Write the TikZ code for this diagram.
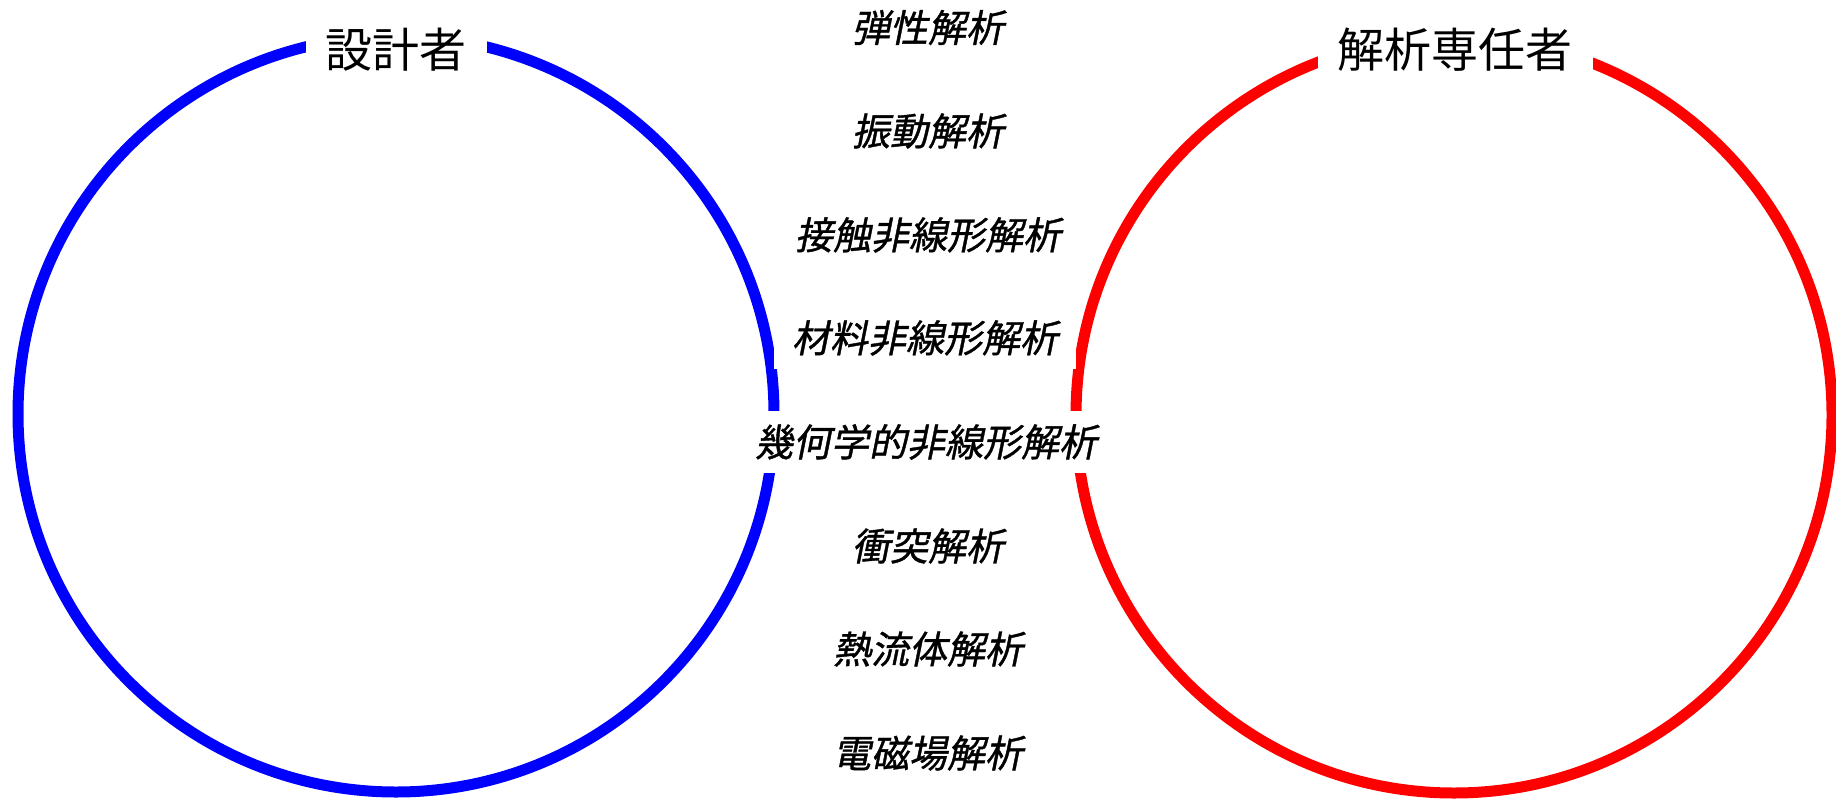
\documentclass[tikz,border=0pt]{standalone}
\usepackage{fontspec}
\newfontfamily\jpfont{Noto Sans CJK JP}
\newfontfamily\jpslfont[FakeSlant=0.2,FakeBold=1]{Noto Sans CJK JP}
\begin{document}
\begin{tikzpicture}[x=1pt,y=-1pt,
  ring/.style={circle, line width=11pt, minimum size=756pt, inner sep=0pt},
  role/.style={fill=white, inner xsep=20pt, inner ysep=8pt, font=\jpfont\fontsize{47}{47}\selectfont},
  method/.style={fill=white, inner xsep=18pt, inner ysep=13pt, font=\jpslfont\fontsize{38}{38}\selectfont}]
\useasboundingbox[fill=white] (0,0) rectangle (1836,798);
\node[ring, draw=blue] (designer) at (396,414) {};
\node[ring, draw=red] (analyst) at (1454,415) {};
\node[role] (designerlabel) at (396,50) {設計者};
\node[role] (analystlabel) at (1455,50) {解析専任者};
\node[method] (m1) at (928,27.5) {弾性解析};
\node[method] (m2) at (928,131) {振動解析};
\node[method] (m3) at (928,235) {接触非線形解析};
\node[method] (m4) at (925,338) {材料非線形解析};
\node[method] (m5) at (926,442) {幾何学的非線形解析};
\node[method] (m6) at (928,546) {衝突解析};
\node[method] (m7) at (928,649) {熱流体解析};
\node[method] (m8) at (928,753) {電磁場解析};
\end{tikzpicture}
\end{document}
